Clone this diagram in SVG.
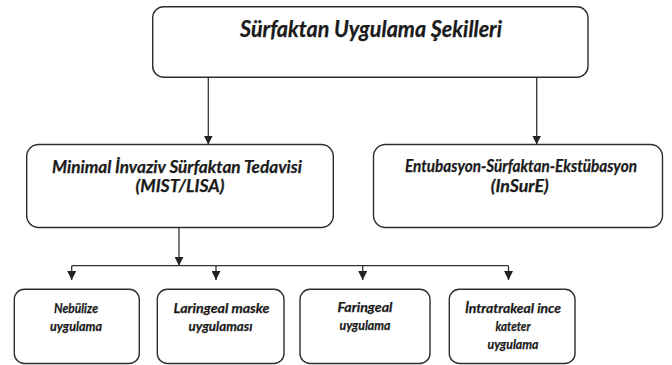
<svg xmlns="http://www.w3.org/2000/svg" width="672" height="365" viewBox="0 0 672 365">
<defs>
<style>
.box{fill:#fff;stroke:#2e2e2e;stroke-width:1.4}
.ln{fill:none;stroke:#333;stroke-width:1.3}
.t{font-family:Lato,"Liberation Sans",sans-serif;font-weight:bold;font-style:italic;fill:#1a1a1a;stroke:#1a1a1a;stroke-width:0.25;text-anchor:middle}
.t1{font-size:22.5px}
.t2{font-size:16.5px}
.t3{font-size:14px}
</style>
<marker id="ah" markerUnits="userSpaceOnUse" markerWidth="9" markerHeight="9" viewBox="0 0 9 9" refX="9" refY="4.5" orient="auto">
<path d="M0,0 L9,4.5 L0,9 Z" fill="#222"/>
</marker>
</defs>
<rect width="672" height="365" fill="#fff"/>
<g id="connectors">
<line class="ln" x1="208.3" y1="77.3" x2="208.3" y2="144.5" marker-end="url(#ah)"/>
<line class="ln" x1="536.7" y1="77.3" x2="536.7" y2="144.5" marker-end="url(#ah)"/>
<line class="ln" x1="179" y1="227.5" x2="179" y2="265.7" marker-end="url(#ah)"/>
<line class="ln" x1="71.7" y1="265.7" x2="508.5" y2="265.7"/>
<line class="ln" x1="71.7" y1="265.7" x2="71.7" y2="280" marker-end="url(#ah)"/>
<line class="ln" x1="216" y1="265.7" x2="216" y2="280" marker-end="url(#ah)"/>
<line class="ln" x1="362.7" y1="265.7" x2="362.7" y2="280" marker-end="url(#ah)"/>
<line class="ln" x1="508.5" y1="265.7" x2="508.5" y2="280" marker-end="url(#ah)"/>
</g>
<g id="node-root">
<rect class="box" x="152.7" y="6.7" width="435.3" height="70.6" rx="11"/>
<text class="t t1" x="371" y="36.5" textLength="262" lengthAdjust="spacingAndGlyphs">Sürfaktan Uygulama Şekilleri</text>
</g>
<g id="node-mist">
<rect class="box" x="26.7" y="144.5" width="306.6" height="83" rx="12"/>
<text class="t t2" x="177" y="172.5" textLength="250" lengthAdjust="spacingAndGlyphs">Minimal İnvaziv Sürfaktan Tedavisi</text>
<text class="t t2" x="180" y="192" textLength="89" lengthAdjust="spacingAndGlyphs">(MIST/LISA)</text>
</g>
<g id="node-insure">
<rect class="box" x="373.5" y="144.5" width="289" height="83" rx="12"/>
<text class="t t2" x="521" y="172" textLength="232" lengthAdjust="spacingAndGlyphs">Entubasyon-Sürfaktan-Ekstübasyon</text>
<text class="t t2" x="519.7" y="192" textLength="58" lengthAdjust="spacingAndGlyphs">(InSurE)</text>
</g>
<g id="node-nebulize">
<rect class="box" x="14.3" y="289.3" width="125" height="74.2" rx="10"/>
<text class="t t3" x="76" y="312.5" textLength="44" lengthAdjust="spacingAndGlyphs">Nebülize</text>
<text class="t t3" x="76" y="330.5" textLength="52" lengthAdjust="spacingAndGlyphs">uygulama</text>
</g>
<g id="node-laringeal">
<rect class="box" x="157.3" y="289.3" width="126.7" height="74.2" rx="10"/>
<text class="t t3" x="221.5" y="312.5" textLength="96" lengthAdjust="spacingAndGlyphs">Laringeal maske</text>
<text class="t t3" x="220.5" y="330.5" textLength="64" lengthAdjust="spacingAndGlyphs">uygulaması</text>
</g>
<g id="node-faringeal">
<rect class="box" x="300" y="289.3" width="130" height="74.2" rx="10"/>
<text class="t t3" x="365" y="312" textLength="55" lengthAdjust="spacingAndGlyphs">Faringeal</text>
<text class="t t3" x="365" y="329.5" textLength="51" lengthAdjust="spacingAndGlyphs">uygulama</text>
</g>
<g id="node-intratrakeal">
<rect class="box" x="449.3" y="289.3" width="125.7" height="74.2" rx="10"/>
<text class="t t3" x="513" y="312.5" textLength="96" lengthAdjust="spacingAndGlyphs">İntratrakeal ince</text>
<text class="t t3" x="513" y="330.5" textLength="35" lengthAdjust="spacingAndGlyphs">kateter</text>
<text class="t t3" x="513" y="349" textLength="51" lengthAdjust="spacingAndGlyphs">uygulama</text>
</g>
</svg>
